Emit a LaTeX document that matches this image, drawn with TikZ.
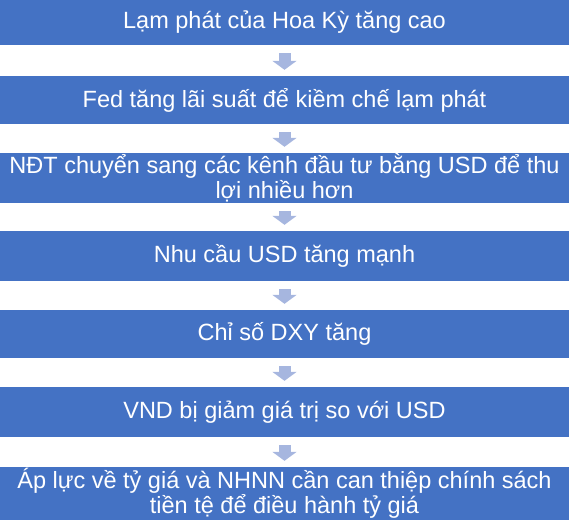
\documentclass[tikz,border=0pt]{standalone}
\usepackage{fontspec}
\setmainfont{Liberation Sans}
\usepackage{tikz}
\usetikzlibrary{arrows.meta}
\definecolor{boxblue}{RGB}{68,114,196}
\definecolor{arrowblue}{RGB}{166,182,223}
\tikzset{
  stagebox/.style={fill=boxblue, text=white, minimum width=569pt, inner sep=0pt,
    align=center, font=\fontsize{23.5}{25}\selectfont},
  downarrow/.style={arrowblue, line width=12pt, shorten <=8pt, shorten >=6pt,
    -{Triangle[width=24pt,length=9pt]}}
}
\begin{document}
\begin{tikzpicture}[x=1pt,y=-1pt]
\useasboundingbox (0,0) rectangle (569,520);
\node[stagebox, minimum height=45pt] (inflation) at (284.5,22.5) {Lạm phát của Hoa Kỳ tăng cao};
\node[stagebox, minimum height=48pt] (fed) at (284.5,100) {Fed tăng lãi suất để kiềm chế lạm phát};
\node[stagebox, minimum height=50pt] (investors) at (284.5,178) {NĐT chuyển sang các kênh đầu tư bằng USD để thu\\lợi nhiều hơn};
\node[stagebox, minimum height=50pt] (demand) at (284.5,256) {Nhu cầu USD tăng mạnh};
\node[stagebox, minimum height=48pt] (dxy) at (284.5,334) {Chỉ số DXY tăng};
\node[stagebox, minimum height=50pt] (vnd) at (284.5,412) {VND bị giảm giá trị so với USD};
\node[stagebox, minimum height=53pt] (pressure) at (284.5,493.5) {Áp lực về tỷ giá và NHNN cần can thiệp chính sách\\tiền tệ để điều hành tỷ giá};
\draw[downarrow] (inflation) -- (fed);
\draw[downarrow] (fed) -- (investors);
\draw[downarrow] (investors) -- (demand);
\draw[downarrow] (demand) -- (dxy);
\draw[downarrow] (dxy) -- (vnd);
\draw[downarrow] (vnd) -- (pressure);
\end{tikzpicture}
\end{document}
